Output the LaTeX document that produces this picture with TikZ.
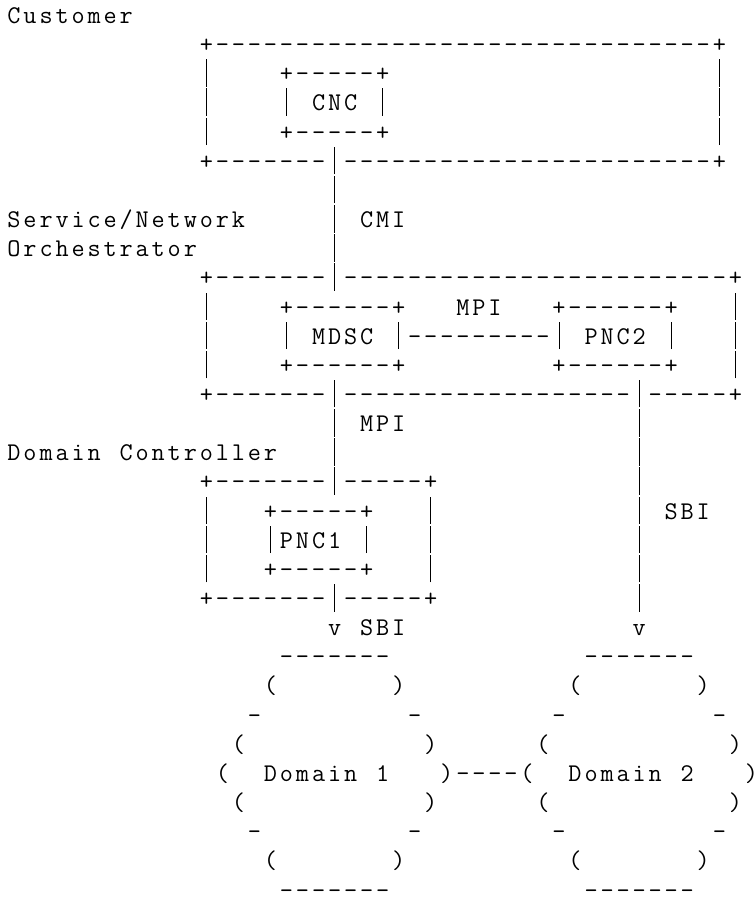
\documentclass[tikz,border=0pt]{standalone}
\newdimen\cellw \cellw=16.03pt
\def\asciiend{ASCIIEND-MARK}
\def\asciiglyph#1{\ifx#1|\rule[-5pt]{0.95pt}{27.5pt}\else#1\fi}
\def\asciicells#1{\ifx#1\asciiend\else\hbox to\cellw{\hss\asciiglyph#1\hss}\expandafter\asciicells\fi}
\def\asciiline#1{\expandafter\asciicells#1\asciiend}
\begingroup
\catcode`\ =\active
\gdef {}%
\gdef\rowa{Customer}%
\gdef\rowb{            +-------------------------------+}%
\gdef\rowc{            |    +-----+                    |}%
\gdef\rowd{            |    | CNC |                    |}%
\gdef\rowe{            |    +-----+                    |}%
\gdef\rowf{            +-------|-----------------------+}%
\gdef\rowg{                    |}%
\gdef\rowh{Service/Network     | CMI}%
\gdef\rowi{Orchestrator        |}%
\gdef\rowj{            +-------|------------------------+}%
\gdef\rowk{            |    +------+   MPI   +------+   |}%
\gdef\rowl{            |    | MDSC |---------| PNC2 |   |}%
\gdef\rowm{            |    +------+         +------+   |}%
\gdef\rown{            +-------|------------------|-----+}%
\gdef\rowo{                    | MPI              |}%
\gdef\rowp{Domain Controller   |                  |}%
\gdef\rowq{            +-------|-----+            |}%
\gdef\rowr{            |   +-----+   |            | SBI}%
\gdef\rows{            |   |PNC1 |   |            |}%
\gdef\rowt{            |   +-----+   |            |}%
\gdef\rowu{            +-------|-----+            |}%
\gdef\rowv{                    v SBI              v}%
\gdef\roww{                 -------            -------}%
\gdef\rowx{                (       )          (       )}%
\gdef\rowy{               -         -        -         -}%
\gdef\rowz{              (           )      (           )}%
\gdef\rowza{             (  Domain 1   )----(  Domain 2   )}%
\gdef\rowzb{              (           )      (           )}%
\gdef\rowzc{               -         -        -         -}%
\gdef\rowzd{                (       )          (       )}%
\gdef\rowze{                 -------            -------}%
\endgroup
\newcommand\asciirow[3]{\node[asciirow] (#1) at (6.0,{-23.5-29.15*#2}) {\asciiline#3};}
\tikzset{asciirow/.style={anchor=base west, inner sep=0pt, outer sep=0pt, text=black,
  font=\ttfamily\fontsize{25.5}{29}\selectfont}}
\begin{document}
\begin{tikzpicture}[x=1pt,y=1pt]
\path[use as bounding box, fill=white] (0,0) rectangle (755,-899);
\asciirow{row0}{0}{\rowa}
\asciirow{row1}{1}{\rowb}
\asciirow{row2}{2}{\rowc}
\asciirow{row3}{3}{\rowd}
\asciirow{row4}{4}{\rowe}
\asciirow{row5}{5}{\rowf}
\asciirow{row6}{6}{\rowg}
\asciirow{row7}{7}{\rowh}
\asciirow{row8}{8}{\rowi}
\asciirow{row9}{9}{\rowj}
\asciirow{row10}{10}{\rowk}
\asciirow{row11}{11}{\rowl}
\asciirow{row12}{12}{\rowm}
\asciirow{row13}{13}{\rown}
\asciirow{row14}{14}{\rowo}
\asciirow{row15}{15}{\rowp}
\asciirow{row16}{16}{\rowq}
\asciirow{row17}{17}{\rowr}
\asciirow{row18}{18}{\rows}
\asciirow{row19}{19}{\rowt}
\asciirow{row20}{20}{\rowu}
\asciirow{row21}{21}{\rowv}
\asciirow{row22}{22}{\roww}
\asciirow{row23}{23}{\rowx}
\asciirow{row24}{24}{\rowy}
\asciirow{row25}{25}{\rowz}
\asciirow{row26}{26}{\rowza}
\asciirow{row27}{27}{\rowzb}
\asciirow{row28}{28}{\rowzc}
\asciirow{row29}{29}{\rowzd}
\asciirow{row30}{30}{\rowze}
\end{tikzpicture}
\end{document}
